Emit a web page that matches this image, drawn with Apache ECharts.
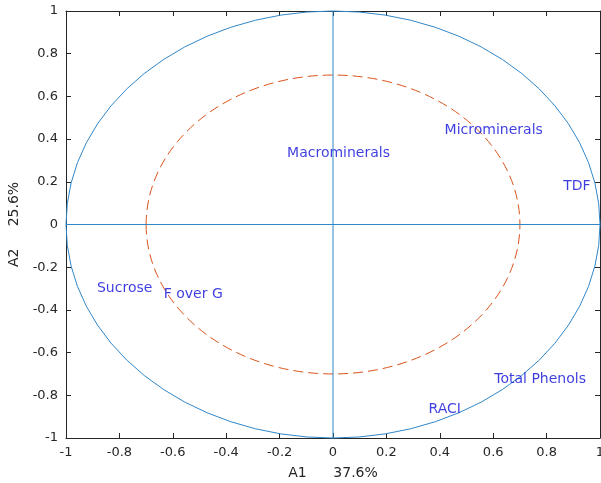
<!DOCTYPE html>
<html>
<head>
<meta charset="utf-8">
<script src="https://cdn.jsdelivr.net/npm/echarts@6/dist/echarts.min.js"></script>
<style>
  html, body { margin: 0; padding: 0; background: #fff; }
  #main { width: 601px; height: 483px; }
</style>
</head>
<body>
<div id="main"></div>
<script>
// variable labels (text placed at its left-middle point)
var varNames = ['Macrominerals', 'Microminerals', 'TDF', 'Sucrose', 'F over G', 'Total Phenols', 'RACI'];
var varX = [-0.172, 0.418, 0.862, -0.884, -0.634, 0.604, 0.358];
var varY = [0.333, 0.44, 0.178, -0.30, -0.328, -0.726, -0.867];

// reference circles: radius (1 = solid unit circle, 0.7 = dashed)
var circleRadii = [1, 0.7];

var blue = '#2f86c8';
var orange = '#D95319';
var ink = '#262626';
var font = 'DejaVu Sans';

var myChart = echarts.init(document.getElementById('main'));

var labelData = varNames.map(function (n, i) {
    return { name: n, value: [varX[i], varY[i]] };
});

function fmt(v) { return String(Math.round(v * 10) / 10); }

function baseAxis(extra) {
    var a = {
        type: 'value',
        min: -1, max: 1, interval: 0.2,
        axisLine: { show: true, onZero: false, lineStyle: { color: ink, width: 1 } },
        axisTick: { show: true, inside: true, length: 5, lineStyle: { color: ink } },
        splitLine: { show: false },
        axisLabel: { show: false }
    };
    for (var k in extra) a[k] = extra[k];
    return a;
}

myChart.setOption({
    animation: false,
    grid: { left: 66, right: 1, top: 11, bottom: 45, outerBoundsMode: 'none', containLabel: false },
    xAxis: [
        baseAxis({
            position: 'bottom',
            name: 'A1      37.6%', nameLocation: 'middle', nameGap: 28,
            nameTextStyle: { color: ink, fontSize: 14, fontFamily: font },
            axisLabel: { show: true, color: ink, fontSize: 13, fontFamily: font, margin: 8, formatter: fmt }
        }),
        baseAxis({ position: 'top' })
    ],
    yAxis: [
        baseAxis({
            position: 'left',
            name: 'A2     25.6%', nameLocation: 'middle', nameGap: 42,
            nameTextStyle: { color: ink, fontSize: 14, fontFamily: font },
            axisLabel: { show: true, color: ink, fontSize: 13, fontFamily: font, margin: 8, formatter: fmt }
        }),
        baseAxis({ position: 'right' })
    ],
    series: [
        {
            // unit circle and dashed 0.7 circle
            type: 'custom',
            xAxisIndex: 0, yAxisIndex: 0,
            silent: true,
            data: circleRadii.map(function (r, i) { return [r, i]; }),
            renderItem: function (params, api) {
                var r = api.value(0);
                var c = api.coord([0, 0]);
                var s = api.size([r, r]);
                var rx = s[0], ry = s[1];
                var d = 'M ' + (c[0] - rx) + ' ' + c[1] +
                    ' A ' + rx + ' ' + ry + ' 0 1 0 ' + (c[0] + rx) + ' ' + c[1] +
                    ' A ' + rx + ' ' + ry + ' 0 1 0 ' + (c[0] - rx) + ' ' + c[1] + ' Z';
                var dashed = api.value(1) === 1;
                return {
                    type: 'path',
                    shape: { pathData: d },
                    style: {
                        fill: 'none',
                        stroke: dashed ? orange : blue,
                        lineWidth: 1,
                        lineDash: dashed ? [10, 5] : null
                    }
                };
            }
        },
        {
            type: 'line',
            data: [[-1, 0], [1, 0]],
            symbol: 'none',
            lineStyle: { color: blue, width: 1 },
            silent: true
        },
        {
            type: 'line',
            data: [[0, -1], [0, 1]],
            symbol: 'none',
            lineStyle: { color: blue, width: 1 },
            silent: true
        },
        {
            type: 'scatter',
            data: labelData,
            symbolSize: 0,
            label: {
                show: true,
                position: 'right',
                distance: 0,
                formatter: '{b}',
                color: '#0c0cd8',
                fontSize: 14,
                fontFamily: font
            },
            silent: true
        }
    ]
});
</script>
</body>
</html>
